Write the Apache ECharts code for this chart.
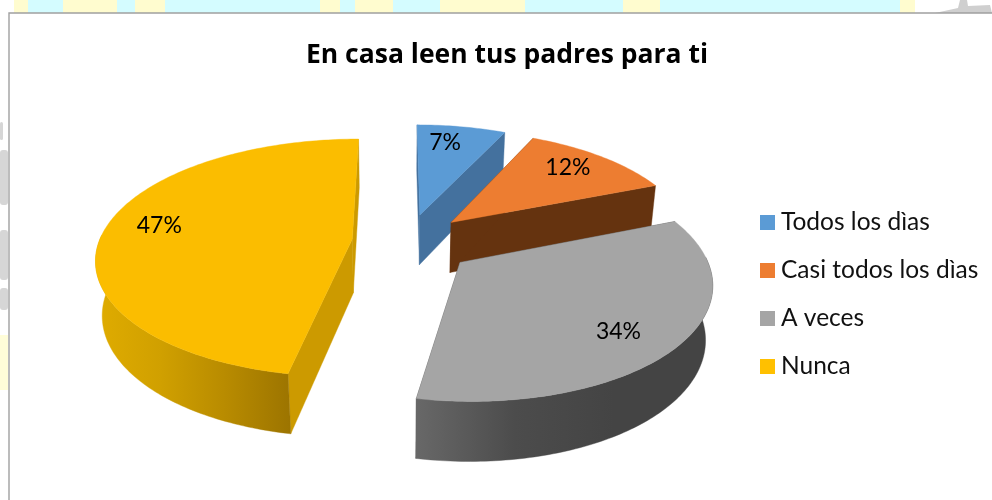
<!DOCTYPE html>
<html><head><meta charset="utf-8">
<style>html,body{margin:0;padding:0;background:#fff}#c{width:992px;height:500px}</style>
<script src="https://cdn.jsdelivr.net/npm/echarts@6/dist/echarts.min.js"></script>
</head><body><div id="c"></div>
<script>
const titleText = 'En casa leen tus padres para ti';
const categories = ['Todos los dìas', 'Casi todos los dìas', 'A veces', 'Nunca'];
const shares = [7, 12, 34, 47];
const topColors = ['#5B9BD5', '#ED7D31', '#A5A5A5', '#FBBD00'];
const legendColors = ['#5B9BD5', '#ED7D31', '#A5A5A5', '#FFC000'];
const faceColors = ['#44719E', '#65330F', '#4A4A4A', '#CC9A00'];
const wallStops = [
  ['#44719E', '#44719E'], ['#65330F', '#65330F'],
  ['#686868', '#4C4C4C', '#444444', '#444444'], ['#E0AC00', '#D0A000', '#B88B00', '#9C7400']
];
const offsetU = [0.094, 0.226, 0.25, -0.19];
const offsetV = [0.216, 0.145, -0.215, -0.01];
const radiusScale = [1, 1, 1, 1.05];
const depths = [52, 52, 54, 55];
const labelFrac = [0.79, 0.79, 0.78, 0.83];
const labelTurn = [-3, -2, 4, 3];
const drawZ = [2, 3, 5, 4];

const CX = 398, CY = 238, SX = 240, SY = 110, K = 0.15, BOTTOM = 0.022;

function project(u, v, low, depth) {
  const w = 1 + K * v + (low ? BOTTOM : 0);
  return [CX + SX * u / w, CY - SY * v / w + (low ? depth / w : 0)];
}
function sliceGeometry(i) {
  const total = shares.reduce((a, b) => a + b, 0);
  let before = 0;
  for (let j = 0; j < i; j++) before += shares[j];
  const a0 = before / total * 360, a1 = (before + shares[i]) / total * 360;
  const mid = ((a0 + a1) / 2 + labelTurn[i]) * Math.PI / 180;
  const ou = offsetU[i], ov = offsetV[i], r = radiusScale[i];
  const rim = [];
  const n = Math.max(8, Math.round(a1 - a0));
  for (let s = 0; s <= n; s++) {
    const t = (a0 + (a1 - a0) * s / n) * Math.PI / 180;
    rim.push([ou + r * Math.sin(t), ov + r * Math.cos(t)]);
  }
  return { ou, ov, mid, rim };
}
function renderSlice(i, api) {
  const g = sliceGeometry(i);
  const apex = [g.ou, g.ov];
  const first = g.rim[0], last = g.rim[g.rim.length - 1];
  const p = (q, low) => project(q[0], q[1], low, depths[i]);
  const poly = (points, fill) => ({ type: 'polygon', shape: { points }, style: { fill, stroke: fill, lineWidth: 0.4 }, silent: true });
  const stops = wallStops[i];
  const wallFill = {
    type: 'linear', x: 0, y: 0, x2: 1, y2: 0,
    colorStops: stops.map((c, k) => ({ offset: k / (stops.length - 1), color: c }))
  };
  const visible = g.rim.filter(q => (q[1] - g.ov) < 0.05);
  const wallPts = visible.length > 1
    ? visible.map(q => p(q, false)).concat(visible.slice().reverse().map(q => p(q, true))) : null;
  const children = [
    poly([p(apex), p(last), p(last, true), p(apex, true)], faceColors[i]),
    poly([p(apex), p(first), p(first, true), p(apex, true)], faceColors[i])
  ];
  if (wallPts) children.push(poly(wallPts, wallFill));
  children.push(poly([p(apex)].concat(g.rim.map(q => p(q))), topColors[i]));
  const lp = project(g.ou + labelFrac[i] * Math.sin(g.mid), g.ov + labelFrac[i] * Math.cos(g.mid), false, 0);
  children.push({
    type: 'text', silent: true,
    style: { x: lp[0], y: lp[1], text: Math.round(api.value(0)) + '%', align: 'center', verticalAlign: 'middle',
      fill: '#000', font: '23px Lato' }
  });
  return { type: 'group', children };
}

// Page behind the chart box
const bandYellow = '#FFFCCF', bandCyan = '#D4FCFF';
const bandEdges = [14, 28, 63, 117, 135, 165, 320, 340, 355, 393, 440, 525, 623, 660, 900, 915];
const bandColors = [bandYellow, bandCyan, bandYellow, bandCyan, bandYellow, bandCyan, bandYellow, bandCyan, bandYellow, bandCyan, bandYellow, bandCyan, bandYellow, bandCyan, bandYellow];
const graphics = bandColors.map((c, k) => ({
  type: 'rect', z: 0, silent: true,
  shape: { x: bandEdges[k], y: 0, width: bandEdges[k + 1] - bandEdges[k], height: 14 }, style: { fill: c }
}));
[[0, 122, 3, 18], [0, 150, 8, 55], [0, 230, 8, 50], [0, 288, 8, 22]].forEach(r => graphics.push({
  type: 'rect', z: 0, silent: true, shape: { x: r[0], y: r[1], width: r[2], height: r[3], r: 3 }, style: { fill: '#D6D6D6' }
}));
graphics.push({ type: 'rect', z: 0, silent: true, shape: { x: 0, y: 335, width: 8, height: 55 }, style: { fill: '#FFFDD8' } });
graphics.push({ type: 'polygon', z: 0, silent: true, shape: { points: [[935, 13], [958, 8], [960, 0], [967, 0], [968, 6], [990, 5], [992, 13]] }, style: { fill: '#CFCFCF' } });
graphics.push({
  type: 'rect', z: 1, silent: true, shape: { x: 9, y: 13, width: 1000, height: 520 },
  style: { fill: '#fff', stroke: '#A0A0A0', lineWidth: 1.4 }
});

const chart = echarts.init(document.getElementById('c'), null, { renderer: 'canvas' });
chart.setOption({
  animation: false,
  backgroundColor: '#fff',
  graphic: graphics,
  title: {
    text: titleText, left: 502, top: 37, textAlign: 'center',
    textStyle: { fontFamily: 'Open Sans', fontWeight: 'bold', fontSize: 26.5, color: '#000' }
  },
  legend: {
    orient: 'vertical', left: 760, top: 210, padding: 0,
    data: categories, icon: 'rect', itemWidth: 15, itemHeight: 15, itemGap: 23,
    selectedMode: false,
    textStyle: { fontFamily: 'Lato', fontSize: 24.5, color: '#111', padding: [0, 0, 0, 1] }
  },
  series: categories.map((name, i) => ({
    type: 'custom', name, coordinateSystem: 'none', z: drawZ[i], silent: true,
    data: [shares[i]], itemStyle: { color: legendColors[i] },
    renderItem: (params, api) => renderSlice(i, api)
  }))
});
</script></body></html>
